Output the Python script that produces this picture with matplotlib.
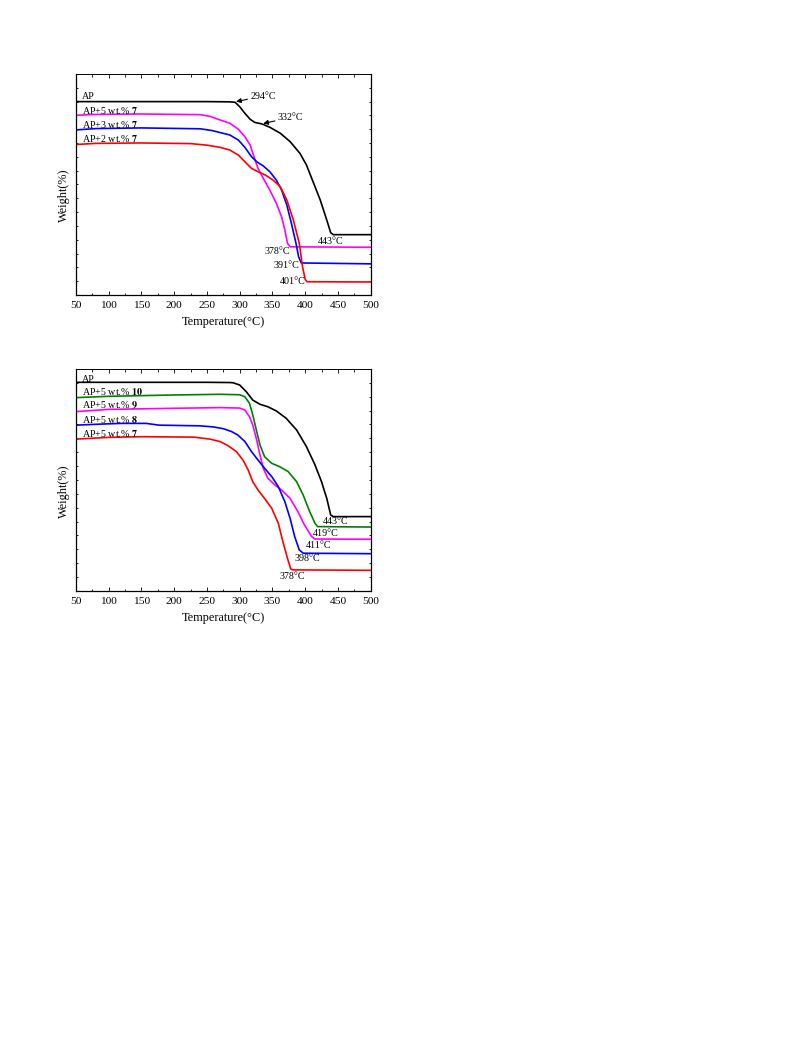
import matplotlib
matplotlib.use("Agg")
import matplotlib.pyplot as plt
from matplotlib.ticker import MultipleLocator

plt.rcParams['font.family'] = ['Liberation Serif', 'DejaVu Serif']
plt.rcParams['mathtext.fontset'] = 'stix'

# ---------------- Top panel data (Temperature °C, relative weight %) ----------------
top_ap_T = [50, 150, 250, 285, 293, 300, 308, 316, 323, 334, 346, 362, 377, 392, 402, 412, 423, 433, 439, 443, 500]
top_ap_W = [87.5, 87.5, 87.5, 87.4, 87.2, 85.2, 82.2, 79.5, 78.1, 77.4, 75.9, 73.2, 69.4, 64.1, 58.8, 51.3, 43.0, 33.9, 28.2, 27.3, 27.3]

top_m5_T = [50, 80, 150, 240, 255, 270, 285, 298, 308, 316, 321, 328, 336, 346, 356, 364, 369, 373, 377, 500]
top_m5_W = [81.3, 81.7, 81.9, 81.6, 80.8, 79.2, 77.7, 75.0, 71.6, 67.9, 63.3, 57.3, 52.8, 47.5, 41.5, 35.4, 29.4, 23.4, 21.8, 21.6]

top_b3_T = [50, 80, 150, 240, 258, 270, 285, 298, 308, 318, 326, 336, 346, 356, 364, 372, 379, 386, 390, 394, 500]
top_b3_W = [74.7, 75.3, 75.6, 75.2, 74.4, 73.5, 72.4, 70.1, 66.8, 62.6, 60.3, 58.4, 55.8, 52.0, 47.5, 40.7, 32.4, 23.4, 17.3, 14.5, 14.1]

top_r2_T = [50, 80, 150, 225, 250, 270, 285, 298, 308, 318, 328, 339, 351, 362, 372, 382, 391, 396, 400, 403, 500]
top_r2_W = [68.1, 68.6, 68.8, 68.5, 67.8, 66.8, 65.6, 63.3, 60.3, 57.3, 55.8, 54.3, 52.0, 49.0, 43.0, 33.9, 23.4, 12.8, 7.1, 6.0, 5.9]

top_labels = ["AP", "AP+5 wt.% $\\mathbf{7}$", "AP+3 wt.% $\\mathbf{7}$", "AP+2 wt.% $\\mathbf{7}$"]
top_temps = ["443°C", "378°C", "391°C", "401°C"]

# ---------------- Bottom panel data ----------------
bot_ap_T = [50, 150, 250, 285, 290, 300, 310, 320, 331, 343, 356, 371, 387, 402, 415, 425, 433, 439, 443, 500]
bot_ap_W = [94.0, 94.0, 94.0, 93.9, 93.8, 92.8, 89.8, 86.0, 84.1, 83.0, 81.1, 77.8, 72.5, 65.0, 56.8, 49.2, 41.7, 34.2, 33.5, 33.5]

bot_g10_T = [50, 100, 200, 270, 300, 308, 315, 320, 326, 331, 338, 349, 361, 374, 387, 397, 407, 415, 419, 500]
bot_g10_W = [87.1, 87.7, 88.3, 88.6, 88.4, 87.5, 84.5, 79.3, 71.8, 65.8, 60.5, 57.5, 56.0, 53.8, 49.2, 43.2, 35.7, 30.5, 29.0, 28.8]

bot_m9_T = [50, 100, 200, 270, 300, 308, 315, 320, 326, 331, 336, 343, 354, 364, 377, 389, 399, 410, 415, 500]
bot_m9_W = [80.8, 81.8, 82.3, 82.6, 82.4, 81.5, 78.5, 74.8, 68.0, 61.3, 55.3, 50.8, 47.7, 45.5, 41.7, 35.7, 29.7, 24.5, 23.4, 23.3]

bot_b8_T = [50, 90, 120, 157, 177, 239, 260, 275, 287, 297, 308, 318, 328, 338, 349, 359, 369, 377, 384, 391, 397, 500]
bot_b8_W = [74.7, 75.2, 75.5, 75.5, 74.7, 74.4, 73.9, 73.1, 71.9, 70.3, 67.3, 62.8, 59.0, 55.3, 51.5, 47.0, 40.2, 32.7, 24.5, 18.5, 17.0, 16.8]

bot_r7_T = [50, 100, 150, 230, 255, 270, 282, 295, 305, 313, 320, 328, 338, 349, 359, 366, 373, 378, 381, 500]
bot_r7_W = [68.4, 69.2, 69.5, 69.3, 68.4, 67.3, 65.5, 62.8, 59.0, 54.5, 49.2, 45.5, 41.7, 37.2, 30.5, 22.2, 14.7, 9.9, 9.5, 9.3]

bot_labels = ["AP", "AP+5 wt.% $\\mathbf{10}$", "AP+5 wt.% $\\mathbf{9}$", "AP+5 wt.% $\\mathbf{8}$", "AP+5 wt.% $\\mathbf{7}$"]
bot_temps = ["443°C", "419°C", "411°C", "398°C", "378°C"]

x_ticks = [50, 100, 150, 200, 250, 300, 350, 400, 450, 500]

fig = plt.figure(figsize=(7.93, 10.57), dpi=100)

def style_axes(ax, ylab_y):
    ax.set_xlim(50, 500)
    ax.set_ylim(0, 100)
    ax.set_xticks(x_ticks)
    ax.xaxis.set_minor_locator(MultipleLocator(25))
    ax.yaxis.set_major_locator(MultipleLocator(6.25))
    ax.set_yticklabels([])
    ax.tick_params(axis='both', which='both', direction='in', top=True, right=True,
                   labelsize=8.2, width=0.6, pad=4)
    ax.tick_params(axis='x', which='major', length=3)
    ax.tick_params(axis='x', which='minor', length=1.8)
    ax.tick_params(axis='y', which='major', length=1.5)
    for s in ax.spines.values():
        s.set_linewidth(0.9)
    ax.spines['top'].set_linewidth(0.7)
    ax.set_xlabel("Temperature(°C)", fontsize=8.8)
    ax.xaxis.set_label_coords(0.5, -0.095)
    ax.set_ylabel("Weight(%)", fontsize=8.8)
    ax.yaxis.set_label_coords(-0.02, ylab_y)

lw = 1.2
tfs = 7.2
arrow_kw = dict(arrowstyle='-|>', color='black', lw=0.8, mutation_scale=7, shrinkA=0, shrinkB=0)

# ---------------- Top panel ----------------
ax1 = fig.add_axes([0.0958, 0.7209, 0.3716, 0.2091])
ax1.plot(top_ap_T, top_ap_W, color='black', lw=lw)
ax1.plot(top_m5_T, top_m5_W, color='#ff00ff', lw=lw)
ax1.plot(top_b3_T, top_b3_W, color='#0000ff', lw=lw)
ax1.plot(top_r2_T, top_r2_W, color='#ff0000', lw=lw)

lab_y_top = [87.7, 81.0, 74.8, 68.4]
for lab, yy in zip(top_labels, lab_y_top):
    ax1.text(59, yy, lab, fontsize=tfs, ha='left', va='bottom')

ax1.annotate("294°C", xy=(294.5, 87.5), xytext=(316, 90.0), fontsize=tfs, va='center', ha='left',
             arrowprops=arrow_kw)
ax1.annotate("332°C", xy=(336, 77.6), xytext=(358, 80.3), fontsize=tfs, va='center', ha='left',
             arrowprops=arrow_kw)

temp_pos_top = [(439, 24.0), (357, 19.9), (372, 13.3), (381, 6.2)]
for t, (xx, yy) in zip(top_temps, temp_pos_top):
    ax1.text(xx, yy, t, fontsize=tfs, ha='center', va='center')
style_axes(ax1, 0.45)

# ---------------- Bottom panel ----------------
ax2 = fig.add_axes([0.0958, 0.4409, 0.3716, 0.2100])
ax2.plot(bot_ap_T, bot_ap_W, color='black', lw=lw)
ax2.plot(bot_g10_T, bot_g10_W, color='#008000', lw=lw)
ax2.plot(bot_m9_T, bot_m9_W, color='#ff00ff', lw=lw)
ax2.plot(bot_b8_T, bot_b8_W, color='#0000ff', lw=lw)
ax2.plot(bot_r7_T, bot_r7_W, color='#ff0000', lw=lw)

lab_y_bot = [93.4, 87.3, 81.0, 74.9, 68.3]
for lab, yy in zip(bot_labels, lab_y_bot):
    ax2.text(59, yy, lab, fontsize=tfs, ha='left', va='bottom')

temp_pos_bot = [(447, 31.2), (431, 26.1), (421, 20.6), (404, 14.6), (380, 6.6)]
for t, (xx, yy) in zip(bot_temps, temp_pos_bot):
    ax2.text(xx, yy, t, fontsize=tfs, ha='center', va='center')
style_axes(ax2, 0.45)

fig.savefig("out.png", dpi=100)
